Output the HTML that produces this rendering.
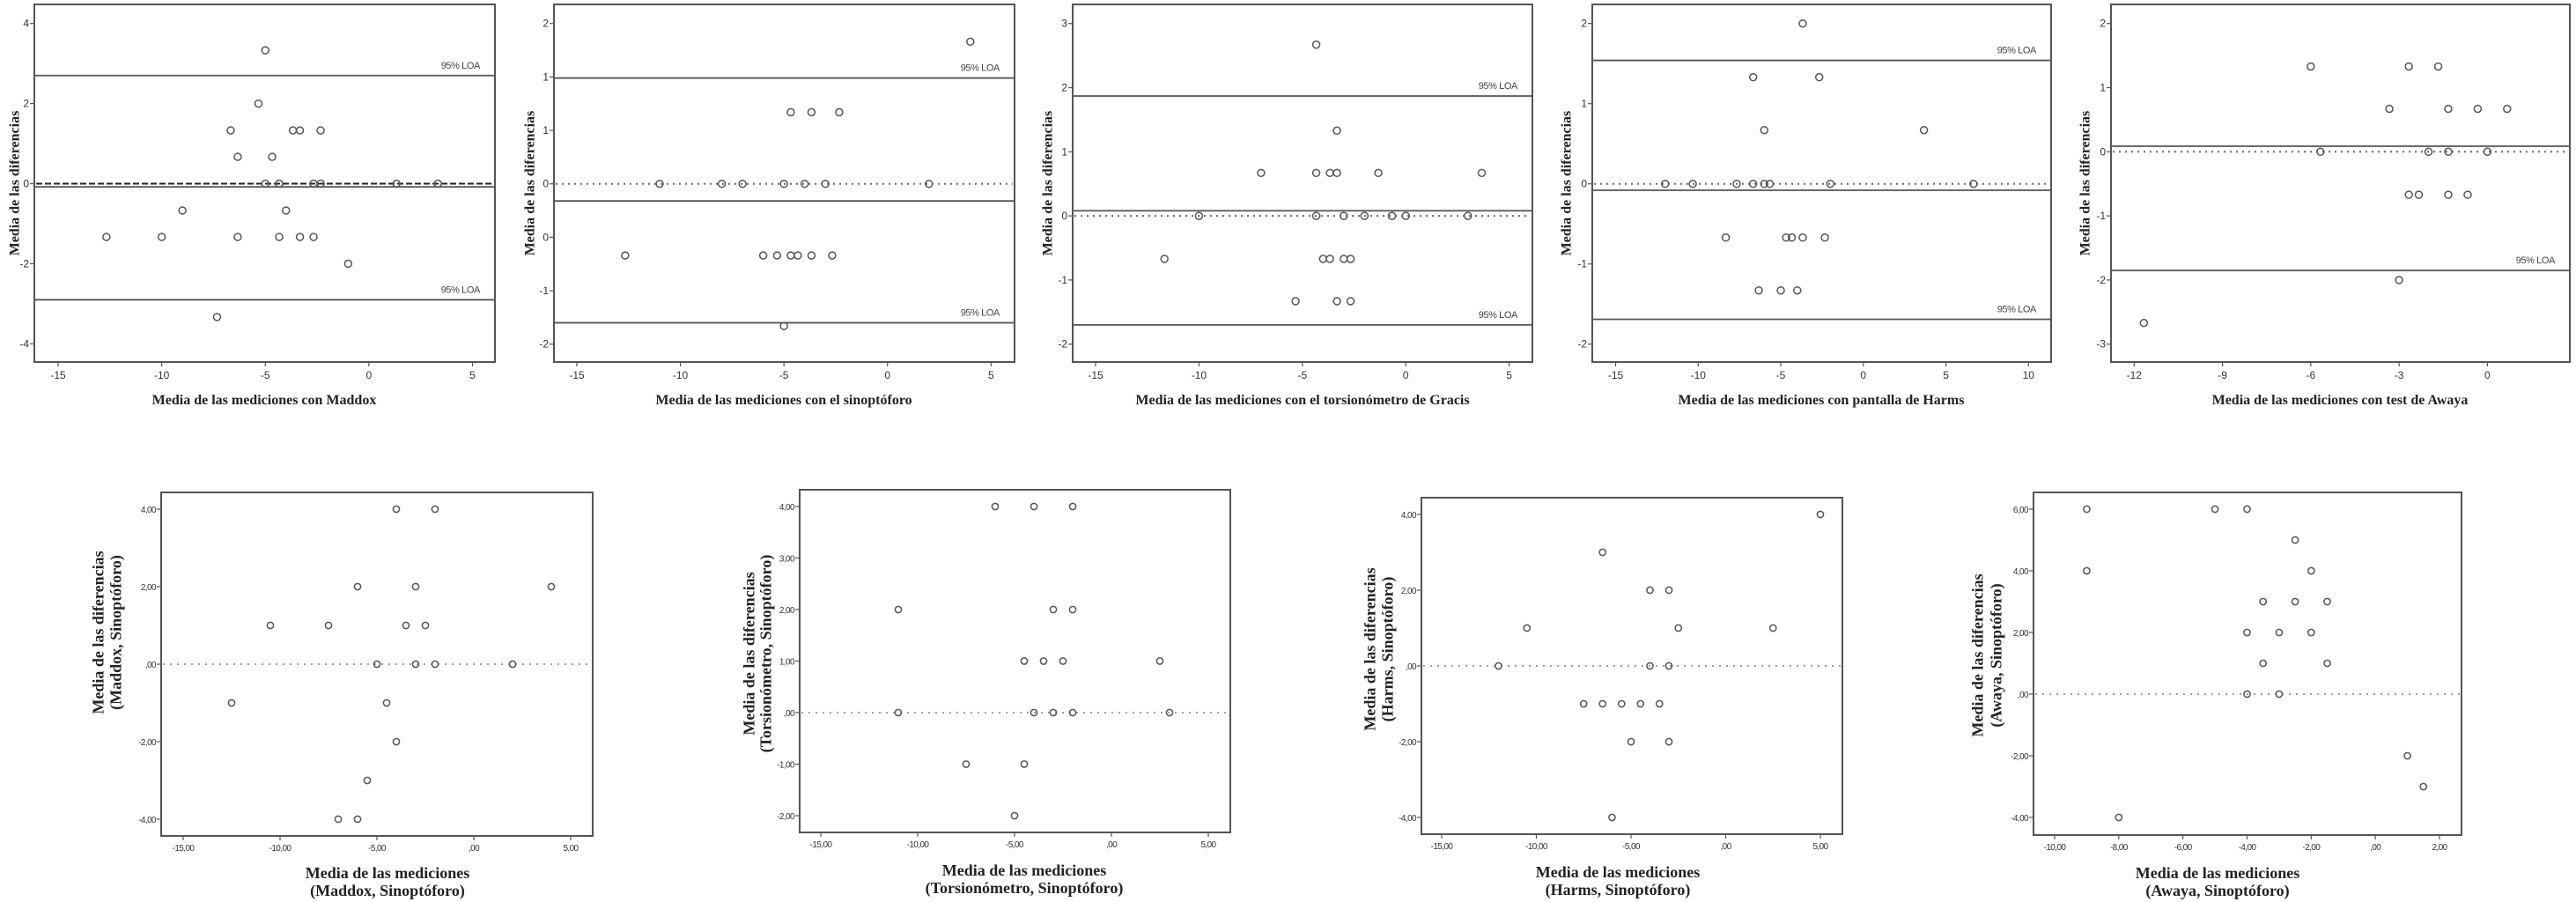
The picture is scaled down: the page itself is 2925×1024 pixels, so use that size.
<!DOCTYPE html>
<html><head><meta charset="utf-8"><style>
html,body{margin:0;padding:0;background:#fff;}
svg{display:block;}
.tk{font-family:"Liberation Sans",Arial,sans-serif;font-size:12px;fill:#333;}
.tkb{font-family:"Liberation Sans",Arial,sans-serif;font-size:10px;fill:#333;letter-spacing:-0.6px;}
.ttl{font-family:"Liberation Serif",serif;font-weight:bold;font-size:16px;fill:#222;}
.ttlb{font-family:"Liberation Serif",serif;font-weight:bold;font-size:18px;fill:#222;}
.loa{font-family:"Liberation Sans",Arial,sans-serif;font-size:11px;fill:#444;letter-spacing:-0.4px;}
</style></head><body>
<svg id="fig" width="2925" height="1024" viewBox="0 0 2925 1024" xmlns="http://www.w3.org/2000/svg"></svg>
<script>
// ---- Panel 1: Maddox ----
const p1X = [-5,-5.33,-6.67,-3.67,-3.33,-2.33,-6.33,-4.67,-5,-4.33,-2.67,-2.33,1.33,3.33,-9,-4,-12.67,-10,-6.33,-4.33,-3.33,-2.67,-1,-7.33];
const p1Y = [3.33,2,1.33,1.33,1.33,1.33,0.67,0.67,0,0,0,0,0,0,-0.67,-0.67,-1.33,-1.33,-1.33,-1.33,-1.33,-1.33,-2,-3.33];
const p1XTicks = [-15,-10,-5,0,5];
const p1YTicks = [4,2,0,-2,-4];
const p1YTickLabels = ["4","2","0","-2","-4"];
const p1Lines = [2.7,-0.08,-2.9];
// ---- Panel 2: Sinoptoforo ----
const p2X = [4,-4.67,-3.67,-2.33,-11,-8,-7,-5,-4,-3,2,-12.67,-6,-5.33,-4.67,-4.33,-3.67,-2.67,-5];
const p2Y = [1.33,0.67,0.67,0.67,0,0,0,0,0,0,0,-0.67,-0.67,-0.67,-0.67,-0.67,-0.67,-0.67,-1.33];
const p2XTicks = [-15,-10,-5,0,5];
const p2YTicks = [1.5,1,0.5,0,-0.5,-1,-1.5];
const p2YTickLabels = ["2","1","1","0","0","-1","-2"];
const p2Lines = [0.99,-0.16,-1.30];
// ---- Panel 3: Torsionometro de Gracis ----
const p3X = [-4.33,-3.33,-7,-4.33,-3.67,-3.33,-1.33,3.67,-10,-4.33,-3,-2,-0.67,0,3,-11.67,-4,-3.67,-3,-2.67,-5.33,-3.33,-2.67];
const p3Y = [2.67,1.33,0.67,0.67,0.67,0.67,0.67,0.67,0,0,0,0,0,0,0,-0.67,-0.67,-0.67,-0.67,-0.67,-1.33,-1.33,-1.33];
const p3XTicks = [-15,-10,-5,0,5];
const p3YTicks = [3,2,1,0,-1,-2];
const p3YTickLabels = ["3","2","1","0","-1","-2"];
const p3Lines = [1.87,0.08,-1.70];
// ---- Panel 4: Harms ----
const p4X = [-3.67,-6.67,-2.67,-6,3.67,-12,-10.33,-7.67,-6.67,-6,-5.67,-2,6.67,-8.33,-4.67,-4.33,-3.67,-2.33,-6.33,-5,-4];
const p4Y = [2,1.33,1.33,0.67,0.67,0,0,0,0,0,0,0,0,-0.67,-0.67,-0.67,-0.67,-0.67,-1.33,-1.33,-1.33];
const p4XTicks = [-15,-10,-5,0,5,10];
const p4YTicks = [2,1,0,-1,-2];
const p4YTickLabels = ["2","1","0","-1","-2"];
const p4Lines = [1.54,-0.08,-1.69];
// ---- Panel 5: Awaya ----
const p5X = [-6,-2.67,-1.67,-3.33,-1.33,-0.33,0.67,-5.67,-2,-1.33,0,-2.67,-2.33,-1.33,-0.67,-3,-11.67];
const p5Y = [1.33,1.33,1.33,0.67,0.67,0.67,0.67,0,0,0,0,-0.67,-0.67,-0.67,-0.67,-2,-2.67];
const p5XTicks = [-12,-9,-6,-3,0];
const p5YTicks = [2,1,0,-1,-2,-3];
const p5YTickLabels = ["2","1","0","-1","-2","-3"];
const p5Lines = [0.087,-1.85];
// ---- Panel 6: Maddox, Sinoptoforo ----
const p6X = [-4,-2,-6,-3,4,-10.5,-7.5,-3.5,-2.5,-5,-3,-2,2,-12.5,-4.5,-4,-5.5,-7,-6];
const p6Y = [4,4,2,2,2,1,1,1,1,0,0,0,0,-1,-1,-2,-3,-4,-4];
const p6XTicks = [-15,-10,-5,0,5];
const p6XTickLabels = ["-15,00","-10,00","-5,00",",00","5,00"];
const p6YTicks = [4,2,0,-2,-4];
const p6YTickLabels = ["4,00","2,00",",00","-2,00","-4,00"];
// ---- Panel 7: Torsionometro, Sinoptoforo ----
const p7X = [-6,-4,-2,-11,-3,-2,-4.5,-3.5,-2.5,2.5,-11,-4,-3,-2,3,-7.5,-4.5,-5];
const p7Y = [4,4,4,2,2,2,1,1,1,1,0,0,0,0,0,-1,-1,-2];
const p7XTicks = [-15,-10,-5,0,5];
const p7XTickLabels = ["-15,00","-10,00","-5,00",",00","5,00"];
const p7YTicks = [4,3,2,1,0,-1,-2];
const p7YTickLabels = ["4,00","3,00","2,00","1,00",",00","-1,00","-2,00"];
// ---- Panel 8: Harms, Sinoptoforo ----
const p8X = [5,-6.5,-4,-3,-10.5,-2.5,2.5,-12,-4,-3,-7.5,-6.5,-5.5,-4.5,-3.5,-5,-3,-6];
const p8Y = [4,3,2,2,1,1,1,0,0,0,-1,-1,-1,-1,-1,-2,-2,-4];
const p8XTicks = [-15,-10,-5,0,5];
const p8XTickLabels = ["-15,00","-10,00","-5,00",",00","5,00"];
const p8YTicks = [4,2,0,-2,-4];
const p8YTickLabels = ["4,00","2,00",",00","-2,00","-4,00"];
// ---- Panel 9: Awaya, Sinoptoforo ----
const p9X = [-9,-5,-4,-2.5,-9,-2,-3.5,-2.5,-1.5,-4,-3,-2,-3.5,-1.5,-4,-3,1,1.5,-8];
const p9Y = [6,6,6,5,4,4,3,3,3,2,2,2,1,1,0,0,-2,-3,-4];
const p9XTicks = [-10,-8,-6,-4,-2,0,2];
const p9XTickLabels = ["-10,00","-8,00","-6,00","-4,00","-2,00",",00","2,00"];
const p9YTicks = [6,4,2,0,-2,-4];
const p9YTickLabels = ["6,00","4,00","2,00",",00","-2,00","-4,00"];

const NS = "http://www.w3.org/2000/svg";
const fig = document.getElementById('fig');
function mk(tag, attrs, parent) {
  const e = document.createElementNS(NS, tag);
  for (const k in attrs) e.setAttribute(k, attrs[k]);
  (parent || fig).appendChild(e);
  return e;
}
function scale(v0, p0, v1, p1) { return v => p0 + (v - v0) * (p1 - p0) / (v1 - v0); }

function panel(id, L, d) {
  const g = mk('g', {});
  
  
  const sx = scale(L.xv0, L.xp0, L.xv1, L.xp1);
  const sy = scale(L.yv0, L.yp0, L.yv1, L.yp1);
  const bottom = L.row === 2;
  // zero reference line
  const zl = mk('line', {x1: L.l + 2, x2: L.r - 2, y1: sy(0), y2: sy(0),
    stroke: d.zeroColor, 'stroke-width': d.zeroW, 'stroke-dasharray': d.zeroDash}, g);
  
  
  // mean & LOA lines
  (d.lines || []).forEach((v, i) => {
    const ln = mk('line', {x1: L.l, x2: L.r, y1: sy(v), y2: sy(v), stroke: '#555', 'stroke-width': 1.8}, g);
    
    
  });
  (d.loa || []).forEach((v, i) => {
    const t = mk('text', {x: L.r - 17, y: sy(v) - 8, 'text-anchor': 'end', class: 'loa'}, g);
    t.textContent = '95% LOA';
    
    
  });
  // points
  d.xs.forEach((x, i) => {
    const c = mk('circle', {cx: sx(x), cy: sy(d.ys[i]), r: bottom ? 3.6 : 4, fill: 'none', stroke: '#555', 'stroke-width': 1.5}, g);
    
    
  });
  // frame
  const fr = mk('rect', {x: L.l, y: L.t, width: L.r - L.l, height: L.b - L.t, fill: 'none', stroke: '#555', 'stroke-width': 2}, g);
  
  
  // ticks
  const tcls = bottom ? 'tkb' : 'tk';
  d.xt.forEach((v, i) => {
    mk('line', {x1: sx(v), x2: sx(v), y1: L.b, y2: L.b + 5, stroke: '#555', 'stroke-width': 1.2}, g);
    const t = mk('text', {x: sx(v), y: L.b + (bottom ? 17 : 19), 'text-anchor': 'middle', class: tcls}, g);
    t.textContent = d.xtl ? d.xtl[i] : String(v);
    
    
  });
  d.yt.forEach((v, i) => {
    mk('line', {x1: L.l - 5, x2: L.l, y1: sy(v), y2: sy(v), stroke: '#555', 'stroke-width': 1.2}, g);
    const t = mk('text', {x: L.l - 6, y: sy(v) + 4, 'text-anchor': 'end', class: tcls}, g);
    t.textContent = d.ytl[i];
    
    
  });
  // titles
  const tc = bottom ? 'ttlb' : 'ttl';
  d.xTitle.forEach((s, i) => {
    const t = mk('text', {x: L.xtx, y: L.xty + i * 20, 'text-anchor': 'middle', class: tc}, g);
    t.textContent = s;
    
    
  });
  d.yTitle.forEach((s, i) => {
    const x = L.ytx[i];
    const t = mk('text', {x: x, y: L.yty, 'text-anchor': 'middle', class: tc,
      transform: 'rotate(-90 ' + x + ' ' + L.yty + ')', dy: '0.35em'}, g);
    t.textContent = s;
    
    
  });
}

const topZero = {c: '#666', w: 2, d: '2,5'};
panel('maddox', {row:1,l:39,t:5,r:562,b:411,xv0:-15,xp0:66,xv1:5,xp1:536.5,yv0:4,yp0:26.7,yv1:-4,yp1:390.3,xtx:300,xty:459,ytx:[16],yty:208},
  {xs:p1X,ys:p1Y,xt:p1XTicks,yt:p1YTicks,ytl:p1YTickLabels,lines:p1Lines,loa:[p1Lines[0],p1Lines[2]],
   zeroColor:'#222',zeroW:2,zeroDash:'7,3',xTitle:['Media de las mediciones con Maddox'],yTitle:['Media de las diferencias']});
panel('sinoptoforo', {row:1,l:629,t:5,r:1152,b:411,xv0:-15,xp0:655,xv1:5,xp1:1125.3,yv0:1.5,yp0:26.7,yv1:-1.5,yp1:390.7,xtx:890,xty:459,ytx:[601],yty:208},
  {xs:p2X,ys:p2Y,xt:p2XTicks,yt:p2YTicks,ytl:p2YTickLabels,lines:p2Lines,loa:[p2Lines[0],p2Lines[2]],
   zeroColor:topZero.c,zeroW:topZero.w,zeroDash:topZero.d,xTitle:['Media de las mediciones con el sinoptóforo'],yTitle:['Media de las diferencias']});
panel('gracis', {row:1,l:1218,t:5,r:1740,b:411,xv0:-15,xp0:1244,xv1:5,xp1:1713.7,yv0:3,yp0:26.7,yv1:-2,yp1:390.7,xtx:1479,xty:459,ytx:[1189],yty:208},
  {xs:p3X,ys:p3Y,xt:p3XTicks,yt:p3YTicks,ytl:p3YTickLabels,lines:p3Lines,loa:[p3Lines[0],p3Lines[2]],
   zeroColor:topZero.c,zeroW:topZero.w,zeroDash:topZero.d,xTitle:['Media de las mediciones con el torsionómetro de Gracis'],yTitle:['Media de las diferencias']});
panel('harms', {row:1,l:1808,t:5,r:2329,b:411,xv0:-15,xp0:1834.5,xv1:10,xp1:2303.3,yv0:2,yp0:26.7,yv1:-2,yp1:390.7,xtx:2068,xty:459,ytx:[1778],yty:208},
  {xs:p4X,ys:p4Y,xt:p4XTicks,yt:p4YTicks,ytl:p4YTickLabels,lines:p4Lines,loa:[p4Lines[0],p4Lines[2]],
   zeroColor:topZero.c,zeroW:topZero.w,zeroDash:topZero.d,xTitle:['Media de las mediciones con pantalla de Harms'],yTitle:['Media de las diferencias']});
panel('awaya', {row:1,l:2397,t:5,r:2918,b:411,xv0:-12,xp0:2423.3,xv1:0,xp1:2824.4,yv0:2,yp0:26.7,yv1:-3,yp1:390.7,xtx:2657,xty:459,ytx:[2367],yty:208},
  {xs:p5X,ys:p5Y,xt:p5XTicks,yt:p5YTicks,ytl:p5YTickLabels,lines:p5Lines,loa:[p5Lines[1]],
   zeroColor:topZero.c,zeroW:topZero.w,zeroDash:topZero.d,xTitle:['Media de las mediciones con test de Awaya'],yTitle:['Media de las diferencias']});

const botZero = {c: '#8fa5a5', w: 2, d: '2,6'};
panel('maddox-sinoptoforo', {row:2,l:183,t:559,r:673,b:949,xv0:-15,xp0:208,xv1:5,xp1:648,yv0:4,yp0:578,yv1:-4,yp1:930,xtx:440,xty:997,ytx:[111,131],yty:718},
  {xs:p6X,ys:p6Y,xt:p6XTicks,xtl:p6XTickLabels,yt:p6YTicks,ytl:p6YTickLabels,
   zeroColor:botZero.c,zeroW:botZero.w,zeroDash:botZero.d,xTitle:['Media de las mediciones','(Maddox, Sinoptóforo)'],yTitle:['Media de las diferencias','(Maddox, Sinoptóforo)']});
panel('torsionometro-sinoptoforo', {row:2,l:908,t:556,r:1397,b:945,xv0:-15,xp0:932,xv1:5,xp1:1372,yv0:4,yp0:575,yv1:-2,yp1:926,xtx:1163,xty:994,ytx:[850,869],yty:742},
  {xs:p7X,ys:p7Y,xt:p7XTicks,xtl:p7XTickLabels,yt:p7YTicks,ytl:p7YTickLabels,
   zeroColor:botZero.c,zeroW:botZero.w,zeroDash:botZero.d,xTitle:['Media de las mediciones','(Torsionómetro, Sinoptóforo)'],yTitle:['Media de las diferencias','(Torsionómetro, Sinoptóforo)']});
panel('harms-sinoptoforo', {row:2,l:1614,t:565,r:2092,b:947,xv0:-15,xp0:1637,xv1:5,xp1:2067,yv0:4,yp0:584,yv1:-4,yp1:928,xtx:1837,xty:996,ytx:[1555,1575],yty:737},
  {xs:p8X,ys:p8Y,xt:p8XTicks,xtl:p8XTickLabels,yt:p8YTicks,ytl:p8YTickLabels,
   zeroColor:botZero.c,zeroW:botZero.w,zeroDash:botZero.d,xTitle:['Media de las mediciones','(Harms, Sinoptóforo)'],yTitle:['Media de las diferencias','(Harms, Sinoptóforo)']});
panel('awaya-sinoptoforo', {row:2,l:2309,t:559,r:2795,b:948,xv0:-10,xp0:2333,xv1:2,xp1:2770,yv0:6,yp0:578,yv1:-4,yp1:928,xtx:2518,xty:997,ytx:[2245,2266],yty:744},
  {xs:p9X,ys:p9Y,xt:p9XTicks,xtl:p9XTickLabels,yt:p9YTicks,ytl:p9YTickLabels,
   zeroColor:botZero.c,zeroW:botZero.w,zeroDash:botZero.d,xTitle:['Media de las mediciones','(Awaya, Sinoptóforo)'],yTitle:['Media de las diferencias','(Awaya, Sinoptóforo)']});
</script>
</body></html>
